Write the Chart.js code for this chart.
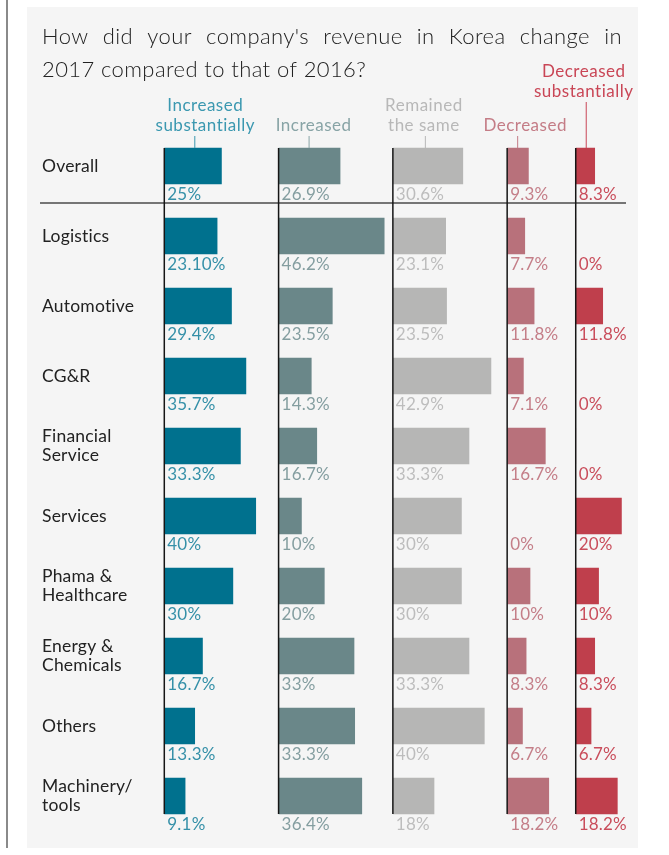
<!DOCTYPE html>
<html lang="en">
<head>
<meta charset="UTF-8">
<title>Revenue change in Korea, 2017 vs 2016</title>
<script src="https://cdn.jsdelivr.net/npm/chart.js"></script>
<style>
    body { margin: 0; background: #fff; }
    #wrap { width: 669px; height: 855px; position: relative; }
</style>
</head>
<body>
<div id="wrap"><canvas id="chart"></canvas></div>
<script>
// rows (multi-line labels as arrays)
const categories = [
    ['Overall'], ['Logistics'], ['Automotive'], ['CG&R'], ['Financial', 'Service'],
    ['Services'], ['Phama &', 'Healthcare'], ['Energy &', 'Chemicals'], ['Others'], ['Machinery/', 'tools']
];
const seriesNames = [
    ['Increased', 'substantially'], ['Increased'], ['Remained', 'the same'], ['Decreased'], ['Decreased', 'substantially']
];
const increasedSubst = [25, 23.1, 29.4, 35.7, 33.3, 40, 30, 16.7, 13.3, 9.1];
const increased      = [26.9, 46.2, 23.5, 14.3, 16.7, 10, 20, 33, 33.3, 36.4];
const remainedSame   = [30.6, 23.1, 23.5, 42.9, 33.3, 30, 30, 33.3, 40, 18];
const decreased      = [9.3, 7.7, 11.8, 7.1, 16.7, 0, 10, 8.3, 6.7, 18.2];
const decreasedSubst = [8.3, 0, 11.8, 0, 0, 20, 10, 8.3, 6.7, 18.2];
// one printed label in the source is written differently from the others
const textOverrides = [[0, 1, '23.10%']];
// range of each column's own axis (%)
const axisMax = [50, 50, 50, 30, 30];

const barColors  = ['#00718e', '#6a8789', '#b6b6b5', '#b8717b', '#bf3f4c'];
const textColors = ['#3590a8', '#849ea0', '#bdbdbd', '#c47e88', '#c94d5b'];
const headColors = ['#3b98b0', '#88a4a6', '#b8b8b8', '#c47c86', '#c94656'];

const allSeries = [increasedSubst, increased, remainedSame, decreased, decreasedSubst];
const FONT = 'Lato, "Open Sans", sans-serif';

function valueText(d, i) {
    const o = textOverrides.find(t => t[0] === d && t[1] === i);
    return o ? o[2] : allSeries[d][i] + '%';
}

// title, headers, row labels, separators, baselines, value labels
const decorations = {
    id: 'decorations',
    beforeDraw(chart) {
        const ctx = chart.ctx;
        ctx.save();
        ctx.fillStyle = '#f5f5f5';
        ctx.fillRect(27, 7, 611, 841);
        ctx.fillStyle = '#8a8a8a';
        ctx.fillRect(6, 0, 2, 848);
        ctx.restore();
    },
    afterDatasetsDraw(chart) {
        const ctx = chart.ctx;
        const yScale = chart.scales.y;
        ctx.save();

        // title, first line justified
        ctx.fillStyle = '#222';
        ctx.font = '300 22px ' + FONT;
        ctx.letterSpacing = '0.4px';
        ctx.textBaseline = 'alphabetic';
        const words = "How did your company's revenue in Korea change in".split(' ');
        const wordsW = words.reduce((s, w) => s + ctx.measureText(w).width, 0);
        const gap = (622 - 42 - wordsW) / (words.length - 1);
        let tx = 42;
        words.forEach(w => { ctx.fillText(w, tx, 44); tx += ctx.measureText(w).width + gap; });
        ctx.fillText('2017 compared to that of 2016?', 42, 77);

        // column headers + connector ticks
        const headDx = [41, 35, 31, 18, 8];
        const tickDx = [30, 30, 32, 10, 10];
        ctx.font = '17px ' + FONT;
        ctx.letterSpacing = '0.5px';
        ctx.textAlign = 'center';
        const barTop = chart.getDatasetMeta(0).data[0].y - 18;
        seriesNames.forEach((lines, d) => {
            const x0 = chart.scales['x' + d].getPixelForValue(0);
            const lastBase = d === 4 ? 97 : 131;
            ctx.fillStyle = headColors[d];
            lines.forEach((t, k) => ctx.fillText(t, x0 + headDx[d], lastBase - (lines.length - 1 - k) * 20));
            ctx.strokeStyle = headColors[d];
            ctx.lineWidth = 1;
            ctx.beginPath();
            ctx.moveTo(x0 + tickDx[d] + 0.5, lastBase + 5);
            ctx.lineTo(x0 + tickDx[d] + 0.5, barTop);
            ctx.stroke();
        });

        // row labels
        ctx.textAlign = 'left';
        ctx.textBaseline = 'middle';
        ctx.fillStyle = '#222';
        ctx.font = '17.5px ' + FONT;
        ctx.letterSpacing = '0.2px';
        categories.forEach((lines, i) => {
            const yc = yScale.getPixelForValue(i);
            lines.forEach((t, k) => ctx.fillText(t, 42, yc + (k - (lines.length - 1) / 2) * 19));
        });

        // separator under "Overall"
        const firstBottom = chart.getDatasetMeta(0).data[0].y + 18;
        ctx.strokeStyle = '#4a4a4a';
        ctx.lineWidth = 1.5;
        ctx.beginPath();
        ctx.moveTo(40, firstBottom + 19);
        ctx.lineTo(626, firstBottom + 19);
        ctx.stroke();

        // column baselines
        const n = categories.length;
        const lastBottom = chart.getDatasetMeta(0).data[n - 1].y + 18;
        ctx.strokeStyle = '#151515';
        ctx.lineWidth = 1.5;
        allSeries.forEach((s, d) => {
            const x0 = chart.scales['x' + d].getPixelForValue(0);
            ctx.beginPath();
            ctx.moveTo(x0, barTop);
            ctx.lineTo(x0, lastBottom);
            ctx.stroke();
        });

        // value labels below each bar
        ctx.textBaseline = 'alphabetic';
        ctx.font = '17px ' + FONT;
        ctx.letterSpacing = '0.2px';
        allSeries.forEach((s, d) => {
            const x0 = chart.scales['x' + d].getPixelForValue(0);
            ctx.fillStyle = textColors[d];
            chart.getDatasetMeta(d).data.forEach((bar, i) => {
                ctx.fillText(valueText(d, i), x0 + 3, bar.y + 18 + 16);
            });
        });
        ctx.restore();
    }
};

const scales = {
    y: { type: 'category', display: false, offset: true, grid: { display: false } }
};
axisMax.forEach((m, d) => {
    scales['x' + d] = {
        type: 'linear', position: 'bottom', stack: 'cols', stackWeight: m,
        min: 0, max: m, display: false, grid: { display: false }
    };
});

new Chart(document.getElementById('chart'), {
    type: 'bar',
    data: {
        labels: categories,
        datasets: allSeries.map((s, d) => ({
            label: seriesNames[d].join(' '),
            data: s,
            xAxisID: 'x' + d,
            yAxisID: 'y',
            backgroundColor: barColors[d],
            borderWidth: 0,
            barThickness: 36,
            grouped: false
        }))
    },
    options: {
        indexAxis: 'y',
        responsive: true,
        maintainAspectRatio: false,
        animation: false,
        layout: { padding: { left: 164.3, right: 24.7, top: 131, bottom: 24 } },
        plugins: { legend: { display: false }, tooltip: { enabled: false } },
        scales: scales
    },
    plugins: [decorations]
});
</script>
</body>
</html>
